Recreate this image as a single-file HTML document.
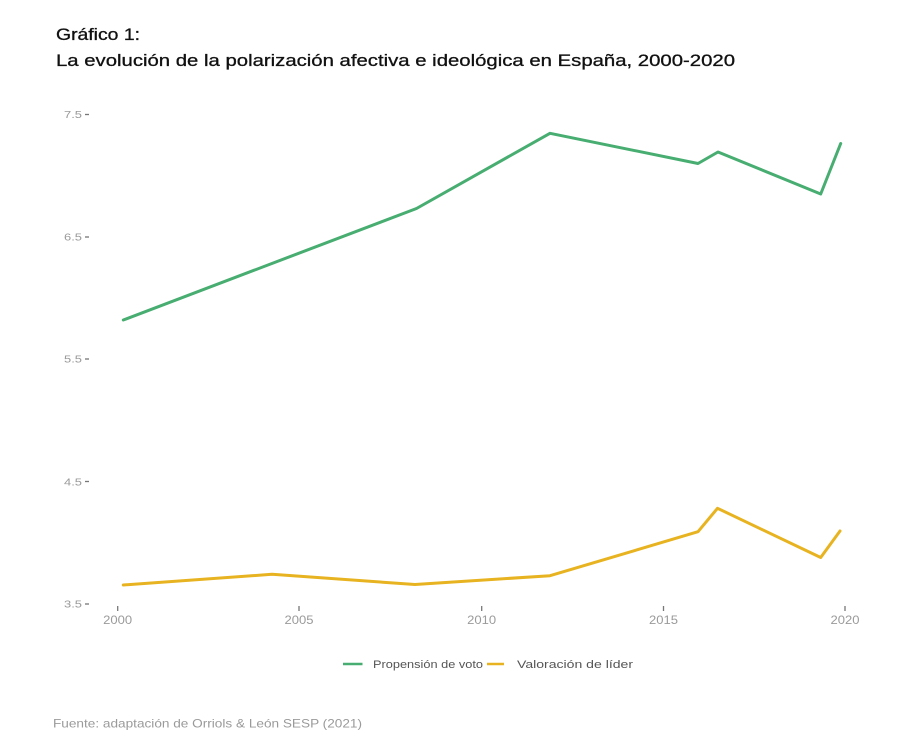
<!DOCTYPE html>
<html><head><meta charset="utf-8"><style>
html,body{margin:0;padding:0;background:#fff;}
svg{display:block;}
text{font-family:"Liberation Sans",sans-serif;}
</style></head><body>
<svg width="911" height="732" viewBox="0 0 911 732" xmlns="http://www.w3.org/2000/svg">
<rect width="911" height="732" fill="#fff"/>
<!-- Title -->
<text x="56" y="40" font-size="16.5" fill="#111" stroke="#111" stroke-width="0.3" textLength="84" lengthAdjust="spacingAndGlyphs">Gráfico 1:</text>
<text x="56" y="66" font-size="16.5" fill="#111" stroke="#111" stroke-width="0.3" textLength="679" lengthAdjust="spacingAndGlyphs">La evolución de la polarización afectiva e ideológica en España, 2000-2020</text>

<!-- Y axis labels -->
<g font-size="10" fill="#9a9a9a">
<text x="64" y="118" textLength="18" lengthAdjust="spacingAndGlyphs">7.5</text>
<text x="64" y="240.5" textLength="18" lengthAdjust="spacingAndGlyphs">6.5</text>
<text x="64" y="362.5" textLength="18" lengthAdjust="spacingAndGlyphs">5.5</text>
<text x="64" y="485.5" textLength="18" lengthAdjust="spacingAndGlyphs">4.5</text>
<text x="64" y="607.5" textLength="18" lengthAdjust="spacingAndGlyphs">3.5</text>
</g>
<g stroke="#777" stroke-width="1.3">
<line x1="85" y1="114.5" x2="89" y2="114.5"/>
<line x1="85" y1="237" x2="89" y2="237"/>
<line x1="85" y1="359" x2="89" y2="359"/>
<line x1="85" y1="481.5" x2="89" y2="481.5"/>
<line x1="85" y1="604" x2="89" y2="604"/>
</g>

<!-- X axis ticks and labels -->
<g stroke="#777" stroke-width="1.3">
<line x1="117.7" y1="606" x2="117.7" y2="611"/>
<line x1="299" y1="606" x2="299" y2="611"/>
<line x1="481.7" y1="606" x2="481.7" y2="611"/>
<line x1="663.5" y1="606" x2="663.5" y2="611"/>
<line x1="845" y1="606" x2="845" y2="611"/>
</g>
<g font-size="11.5" fill="#9a9a9a" text-anchor="middle">
<text x="117.7" y="624" textLength="29" lengthAdjust="spacingAndGlyphs">2000</text>
<text x="299" y="624" textLength="29" lengthAdjust="spacingAndGlyphs">2005</text>
<text x="481.7" y="624" textLength="29" lengthAdjust="spacingAndGlyphs">2010</text>
<text x="663.5" y="624" textLength="29" lengthAdjust="spacingAndGlyphs">2015</text>
<text x="845" y="624" textLength="29" lengthAdjust="spacingAndGlyphs">2020</text>
</g>

<!-- Series -->
<polyline fill="none" stroke="#47ad70" stroke-width="3" stroke-linejoin="round" stroke-linecap="round"
 points="123.3,320 416.5,208.5 550,133.3 698,163.5 718,152 820.7,194 840.7,143.5"/>
<polyline fill="none" stroke="#e8b320" stroke-width="3" stroke-linejoin="round" stroke-linecap="round"
 points="123.3,585 272,574.3 415,584.5 550,575.7 698,531.7 717.5,508.3 820.7,557.5 840,531"/>

<!-- Legend -->
<line x1="343" y1="664" x2="362.5" y2="664" stroke="#47ad70" stroke-width="2.5"/>
<text x="373" y="668" font-size="11" fill="#555" textLength="110" lengthAdjust="spacingAndGlyphs">Propensión de voto</text>
<line x1="487" y1="664" x2="504" y2="664" stroke="#e8b320" stroke-width="2.5"/>
<text x="517" y="668" font-size="11" fill="#555" textLength="116" lengthAdjust="spacingAndGlyphs">Valoración de líder</text>

<!-- Footer -->
<text x="53" y="727.5" font-size="12" fill="#9a9a9a" textLength="309" lengthAdjust="spacingAndGlyphs">Fuente: adaptación de Orriols &amp; León SESP (2021)</text>
</svg>
</body></html>
